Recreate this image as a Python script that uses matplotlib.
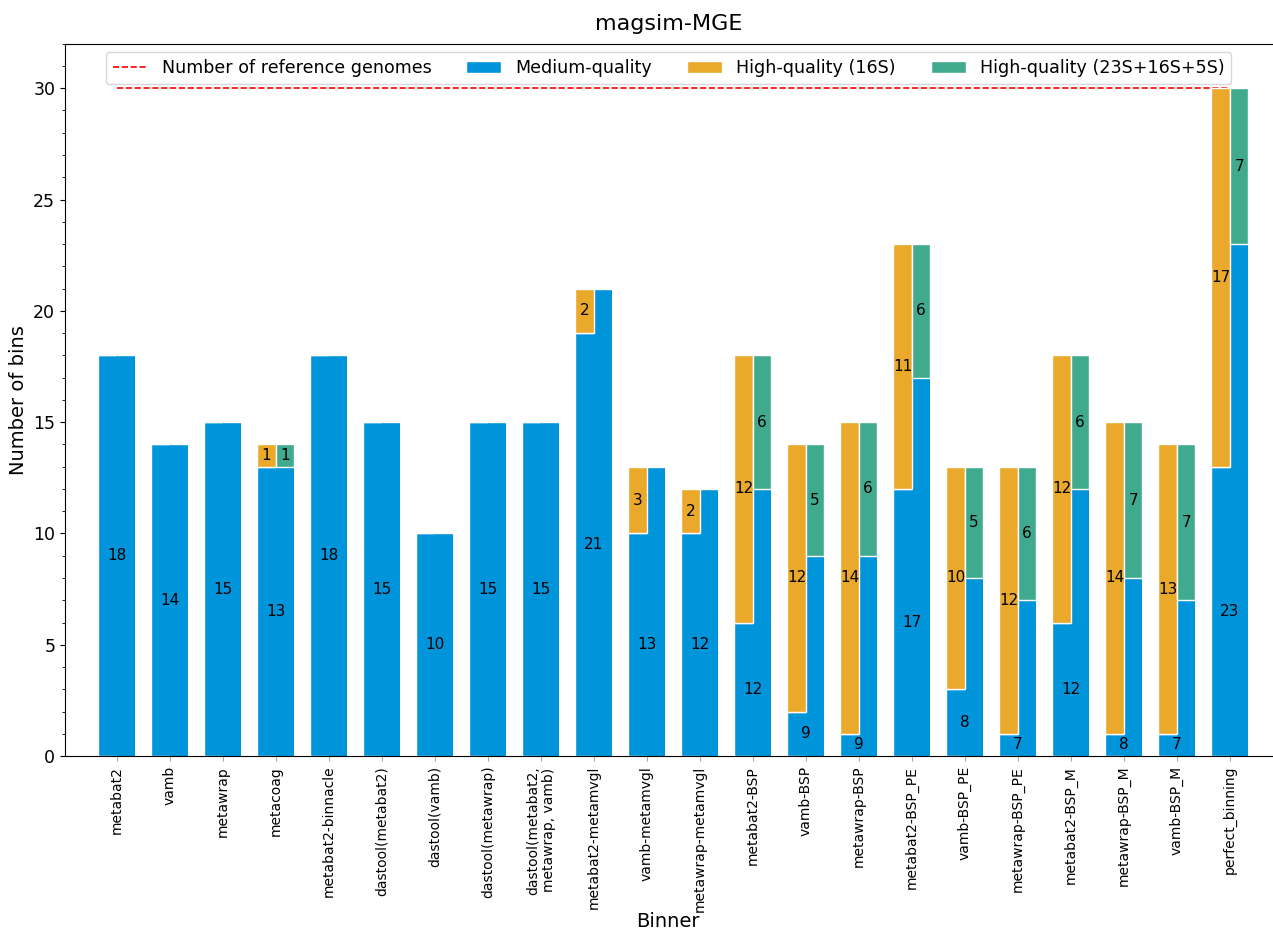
import numpy as np
import matplotlib
matplotlib.use("Agg")
import matplotlib.pyplot as plt
from matplotlib.ticker import MultipleLocator

binners = [
    "metabat2", "vamb", "metawrap", "metacoag", "metabat2-binnacle",
    "dastool(metabat2)", "dastool(vamb)", "dastool(metawrap)",
    "dastool(metabat2,\nmetawrap, vamb)", "metabat2-metamvgl", "vamb-metamvgl",
    "metawrap-metamvgl", "metabat2-BSP", "vamb-BSP", "metawrap-BSP",
    "metabat2-BSP_PE", "vamb-BSP_PE", "metawrap-BSP_PE", "metabat2-BSP_M",
    "metawrap-BSP_M", "vamb-BSP_M", "perfect_binning",
]
# medium-quality / high-quality counts under the 16S criterion
mq_16s = [18, 14, 15, 13, 18, 15, 10, 15, 15, 19, 10, 10, 6, 2, 1, 12, 3, 1, 6, 1, 1, 13]
hq_16s = [0, 0, 0, 1, 0, 0, 0, 0, 0, 2, 3, 2, 12, 12, 14, 11, 10, 12, 12, 14, 13, 17]
# medium-quality / high-quality counts under the 23S+16S+5S criterion
mq_23s = [18, 14, 15, 13, 18, 15, 10, 15, 15, 21, 13, 12, 12, 9, 9, 17, 8, 7, 12, 8, 7, 23]
hq_23s = [0, 0, 0, 1, 0, 0, 0, 0, 0, 0, 0, 0, 6, 5, 6, 6, 5, 6, 6, 7, 7, 7]
n_reference = 30

BLUE = "#0094da"
ORANGE = "#eba92b"
GREEN = "#3faa8e"

fig = plt.figure(figsize=(12.73, 9.3), dpi=100)
ax = fig.add_axes([0.051, 0.187, 0.948, 0.766])

x = np.arange(len(binners))
w = 0.7

ref_line, = ax.plot([x[0], x[-1]], [n_reference, n_reference], color="red",
                    linestyle="--", linewidth=1.2, label="Number of reference genomes")

mq_bars = ax.bar(x, mq_16s, w, color=BLUE, edgecolor="white", linewidth=1,
                 label="Medium-quality", zorder=2)
ax.bar(x + w / 4, mq_23s, w / 2, color=BLUE, edgecolor="none", linewidth=0, zorder=2)
hq16_bars = ax.bar(x - w / 4, hq_16s, w / 2, bottom=mq_16s, color=ORANGE,
                   edgecolor="white", linewidth=1, label="High-quality (16S)", zorder=3)
hq23_bars = ax.bar(x + w / 4, hq_23s, w / 2, bottom=mq_23s, color=GREEN,
                   edgecolor="white", linewidth=1, label="High-quality (23S+16S+5S)", zorder=3)

ax.bar_label(mq_bars, labels=[str(v) for v in mq_23s], label_type="center", fontsize=11)
ax.bar_label(hq16_bars, labels=[str(v) if v else "" for v in hq_16s],
             label_type="center", fontsize=11)
ax.bar_label(hq23_bars, labels=[str(v) if v else "" for v in hq_23s],
             label_type="center", fontsize=11)

ax.set_xlim(-0.98, 21.79)
ax.set_ylim(0, 32)
ax.yaxis.set_minor_locator(MultipleLocator(1))
ax.set_xticks(x, binners, rotation=90, fontsize=10)
ax.tick_params(axis="x", color="#aaaaaa")
ax.tick_params(axis="y", labelsize=12.5)
ax.spines["right"].set_visible(False)

ax.set_title("magsim-MGE", fontsize=16, pad=10)
ax.set_xlabel("Binner", fontsize=14, labelpad=0)
ax.set_ylabel("Number of bins", fontsize=14)

ax.legend(handles=[ref_line, mq_bars, hq16_bars, hq23_bars], loc="upper center",
          ncol=4, fontsize=12.6)

fig.savefig("out.png", dpi=100)
